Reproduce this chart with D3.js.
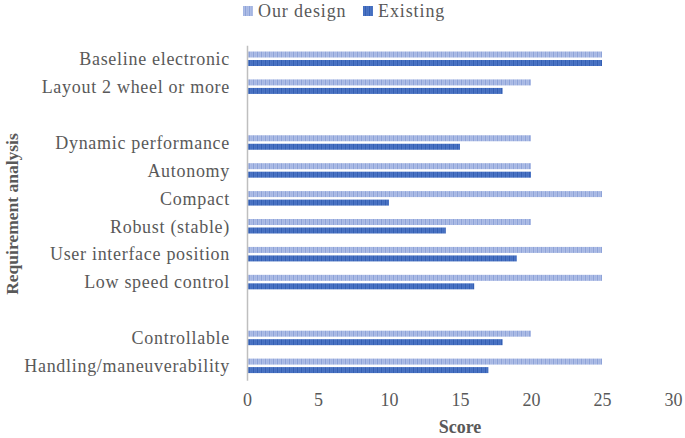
<!DOCTYPE html>
<html><head><meta charset="utf-8">
<script src="https://cdn.jsdelivr.net/npm/d3@7"></script>
<style>body{margin:0;background:#fff}</style>
</head><body>
<svg id="c" width="685" height="438"></svg>
<script>
const categories = ["Baseline electronic ", "Layout 2 wheel or more", "", "Dynamic performance", "Autonomy", "Compact", "Robust (stable)", "User interface position", "Low speed control", "", "Controllable", "Handling/maneuverability"];
const ourDesign = [25, 20, null, 20, 20, 25, 20, 25, 25, null, 20, 25];
const existing  = [25, 18, null, 15, 20, 10, 14, 19, 16, null, 18, 17];
const xTicks = [0, 5, 10, 15, 20, 25, 30];
const seriesNames = ["Our design", "Existing"];

const svg = d3.select("#c");
const font = "'Liberation Serif', 'Times New Roman', serif";
const textColor = "#595959";

const defs = svg.append("defs");
function stripe(id, base, line) {
  const p = defs.append("pattern").attr("id", id).attr("patternUnits", "userSpaceOnUse")
    .attr("width", 4).attr("height", 4);
  p.append("rect").attr("width", 4).attr("height", 4).attr("fill", base);
  p.append("rect").attr("x", 1).attr("width", 1).attr("height", 4).attr("fill", line);
  p.append("rect").attr("x", 3).attr("width", 0.6).attr("height", 4).attr("fill", line).attr("opacity", 0.5);
}
stripe("pOur", "#aebde6", "#8ea3d8");
stripe("pEx", "#4b74c4", "#345fb3");

const x = d3.scaleLinear().domain([0, 30]).range([247, 673]);
const y = d3.scaleBand().domain(d3.range(categories.length)).range([45.3, 380.3]);
const barH = 6, gap = 2.5;

// bars
const g = svg.append("g");
categories.forEach((c, i) => {
  const cy = y(i) + y.bandwidth() / 2;
  if (ourDesign[i] != null) {
    g.append("rect").attr("x", x(0)).attr("y", cy - gap / 2 - barH - 0.5)
      .attr("width", x(ourDesign[i]) - x(0)).attr("height", barH).attr("fill", "url(#pOur)");
  }
  if (existing[i] != null) {
    g.append("rect").attr("x", x(0)).attr("y", cy + gap / 2 - 0.5)
      .attr("width", x(existing[i]) - x(0)).attr("height", barH).attr("fill", "url(#pEx)");
  }
});

// y axis
const yAxis = d3.axisLeft(y).tickSize(0).tickPadding(17).tickFormat(i => categories[i]);
const ya = svg.append("g").attr("transform", `translate(${x(0)},0)`).call(yAxis);
ya.select(".domain").attr("stroke", "#bfbfbf").attr("stroke-width", 1.5);
ya.selectAll("text").attr("font-family", font).attr("font-size", 18).attr("letter-spacing", 0.7).attr("fill", textColor);

// x axis
const xAxis = d3.axisBottom(x).tickValues(xTicks).tickSize(0).tickPadding(13);
const xa = svg.append("g").attr("transform", `translate(0,${y.range()[1]})`).call(xAxis);
xa.select(".domain").remove();
xa.selectAll("text").attr("font-family", font).attr("font-size", 18).attr("fill", textColor);

// titles
svg.append("text").attr("x", 460).attr("y", 433).attr("text-anchor", "middle")
  .attr("font-family", font).attr("font-size", 18).attr("font-weight", "bold").attr("fill", textColor).text("Score");
svg.append("text").attr("transform", "translate(18,214) rotate(-90)").attr("text-anchor", "middle")
  .attr("font-family", font).attr("font-size", 17.5).attr("font-weight", "bold").attr("fill", textColor).text("Requirement analysis");

// legend
const lg = svg.append("g");
const legendX = [243, 363];
seriesNames.forEach((n, i) => {
  lg.append("rect").attr("x", legendX[i]).attr("y", 6).attr("width", 10).attr("height", 10)
    .attr("fill", i === 0 ? "url(#pOur)" : "url(#pEx)");
  lg.append("text").attr("x", legendX[i] + 15).attr("y", 17).attr("font-family", font).attr("font-size", 18)
    .attr("letter-spacing", 0.9).attr("fill", textColor).text(n);
});
</script>
</body></html>
